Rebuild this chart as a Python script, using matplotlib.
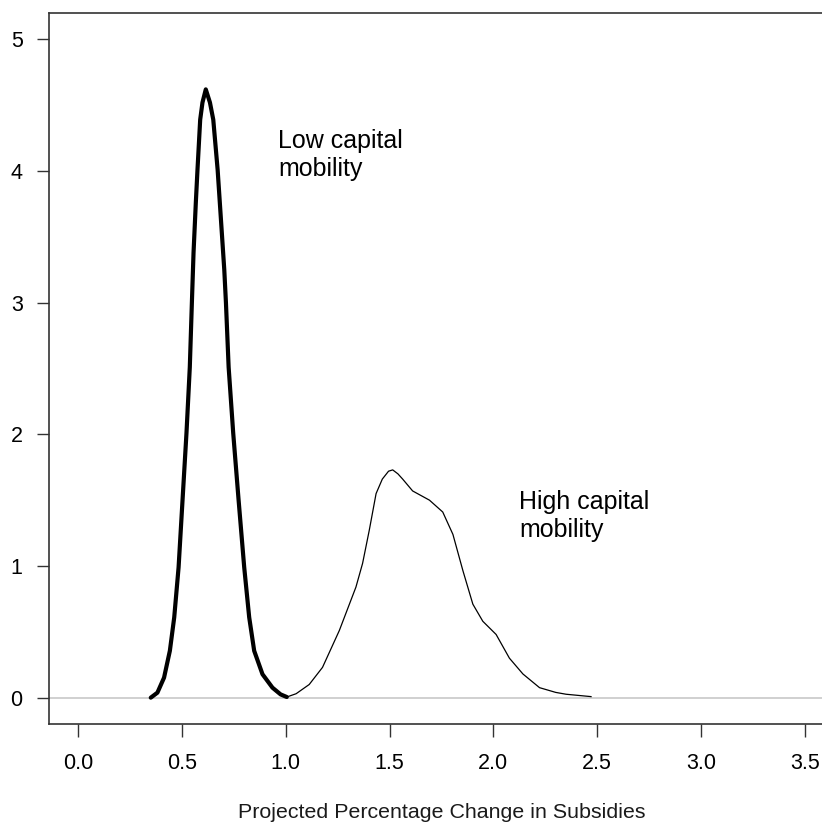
import matplotlib
matplotlib.use("Agg")
import matplotlib.pyplot as plt

plt.rcParams["font.family"] = ["Liberation Sans", "DejaVu Sans"]

# Density curve: low capital mobility (thick line)
low_x = [0.350, 0.382, 0.414, 0.442, 0.463, 0.484, 0.503, 0.522, 0.538, 0.548,
         0.556, 0.567, 0.575, 0.588, 0.599, 0.615, 0.635, 0.651, 0.672, 0.688,
         0.704, 0.712, 0.725, 0.747, 0.773, 0.800, 0.824, 0.848, 0.888, 0.936,
         0.975, 1.005]
low_y = [0.0, 0.038, 0.152, 0.356, 0.61, 0.99, 1.50, 2.01, 2.51, 3.0,
         3.38, 3.76, 4.01, 4.39, 4.52, 4.62, 4.52, 4.39, 4.01, 3.63,
         3.25, 3.0, 2.51, 2.01, 1.50, 0.99, 0.61, 0.356, 0.178, 0.076,
         0.025, 0.005]

# high capital mobility (thin line)
high_x = [1.005, 1.05, 1.113, 1.177, 1.258, 1.338, 1.370, 1.402, 1.435, 1.465,
          1.495, 1.515, 1.540, 1.563, 1.611, 1.692, 1.756, 1.805, 1.853, 1.901,
          1.949, 2.013, 2.077, 2.142, 2.222, 2.30, 2.35, 2.47]
high_y = [0.005, 0.03, 0.10, 0.23, 0.51, 0.84, 1.02, 1.27, 1.55, 1.66,
          1.72, 1.73, 1.70, 1.66, 1.57, 1.50, 1.41, 1.24, 0.965, 0.71,
          0.58, 0.48, 0.30, 0.18, 0.076, 0.04, 0.026, 0.008]

x_ticks = [0.0, 0.5, 1.0, 1.5, 2.0, 2.5, 3.0, 3.5]
y_ticks = [0, 1, 2, 3, 4, 5]

W, H = 822, 824
fig = plt.figure(figsize=(W / 100, H / 100), dpi=100)
ax = fig.add_axes([49 / W, (H - 724) / H, (834 - 49) / W, (724 - 13) / H])

ax.axhline(0, color="#c8c8c8", lw=1.2, zorder=1)
ax.plot(low_x, low_y, color="black", lw=3.0, solid_joinstyle="round",
        solid_capstyle="round", zorder=3)
ax.plot(high_x, high_y, color="black", lw=0.9, solid_joinstyle="round", zorder=3)

ax.text(0.965, 3.963, "Low capital\nmobility", fontsize=18, va="baseline",
        ha="left", linespacing=1.22)
ax.text(2.123, 1.22, "High capital\nmobility", fontsize=18, va="baseline",
        ha="left", linespacing=1.22)

ax.set_xlim(-0.14, 3.64)
ax.set_ylim(-0.2, 5.2)
ax.set_xticks(x_ticks)
ax.set_xticklabels([f"{v:.1f}" for v in x_ticks])
ax.set_yticks(y_ticks)
ax.tick_params(axis="x", length=9, width=1, color="#333333", pad=12, labelsize=15.5)
ax.tick_params(axis="y", length=9, width=1, color="#333333", pad=10, labelsize=15.5)
for s in ax.spines.values():
    s.set_color("#333333")
    s.set_linewidth(1.2)

ax.set_xlabel("Projected Percentage Change in Subsidies", fontsize=15.4, labelpad=21,
              color="#1a1a1a")

fig.savefig("out.png", dpi=100)
